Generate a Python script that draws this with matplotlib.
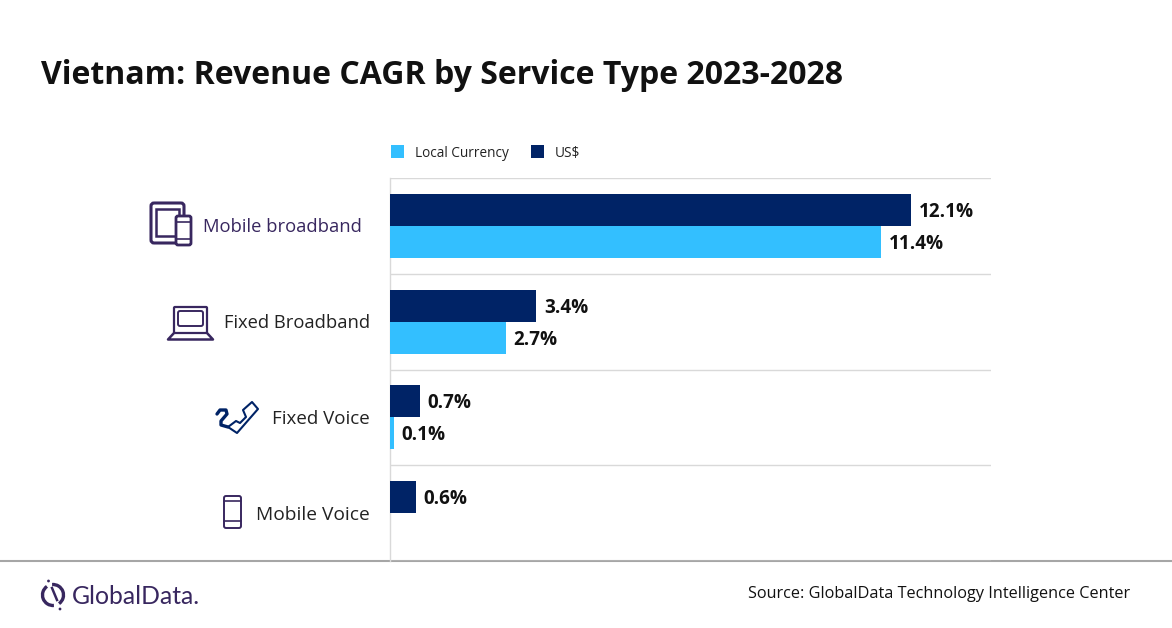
import numpy as np
import matplotlib
matplotlib.use('Agg')
import matplotlib.pyplot as plt
from matplotlib.patches import FancyBboxPatch, Rectangle, Circle, Arc, Polygon

plt.rcParams['font.family'] = ['Open Sans', 'DejaVu Sans']

categories = ['Mobile broadband', 'Fixed Broadband', 'Fixed Voice', 'Mobile Voice']
usd = [12.1, 3.4, 0.7, 0.6]
local_currency = [11.4, 2.7, 0.1, np.nan]
x_max = 13.95

W, H = 1172, 628
NAVY = '#002366'
CYAN = '#33BFFF'
PURPLE = '#38275F'
GRID = '#D9D9D9'

fig = plt.figure(figsize=(W / 100, H / 100), dpi=100)

# overlay in pixel coords for title, icons, footer
bg = fig.add_axes([0, 0, 1, 1])
bg.set_xlim(0, W)
bg.set_ylim(H, 0)
bg.axis('off')

ax = fig.add_axes([390 / W, 1 - 561 / H, 601 / W, 383 / H])
y = np.arange(len(categories))
bar_h = 0.334
ax.barh(y - bar_h / 2, usd, bar_h, color=NAVY)
ax.barh(y + bar_h / 2, local_currency, bar_h, color=CYAN)
ax.set_xlim(0, x_max)
ax.set_ylim(len(categories) - 0.5, -0.5)

for i in range(len(categories)):
    ax.text(usd[i] + 0.17, i - bar_h / 2 + 0.02, f'{usd[i]}%', va='center', ha='left',
            fontsize=13.6, fontweight='bold', color='#111111')
    if not np.isnan(local_currency[i]):
        ax.text(local_currency[i] + 0.17, i + bar_h / 2 + 0.02, f'{local_currency[i]}%',
                va='center', ha='left', fontsize=13.6, fontweight='bold', color='#111111')

for s in ['top', 'right', 'bottom']:
    ax.spines[s].set_visible(False)
ax.spines['left'].set_color(GRID)
ax.spines['left'].set_linewidth(1)
ax.spines['left'].set_zorder(0.5)
ax.set_yticks(np.arange(len(categories) + 1) - 0.5)
ax.set_yticklabels([])
ax.tick_params(axis='y', length=0)
ax.set_xticks([])
ax.grid(axis='y', color=GRID, linewidth=1)
ax.set_axisbelow(True)
ax.patch.set_alpha(0)

# category labels
label_right = [362, 370, 370, 370]
label_size = [13.2, 13.2, 13.5, 13.8]
label_color = [PURPLE, '#222222', '#222222', '#222222']
for i, name in enumerate(categories):
    bg.text(label_right[i], 227.5 + i * 95.7, name, ha='right', va='center',
            fontsize=label_size[i], color=label_color[i])

# title
bg.text(41, 75, 'Vietnam: Revenue CAGR by Service Type 2023-2028', fontsize=23,
        fontweight='bold', color='#111111', va='center', ha='left')

# legend
bg.add_patch(Rectangle((391, 145), 13, 13, color=CYAN, lw=0))
bg.text(415, 153.5, 'Local Currency', fontsize=9.8, color='#222222', va='center')
bg.add_patch(Rectangle((531, 145), 13, 13, color=NAVY, lw=0))
bg.text(555, 153.5, 'US$', fontsize=9.8, color='#222222', va='center')


def rbox(x0, y0, w, h, r, lw, color=PURPLE):
    bg.add_patch(FancyBboxPatch((x0, y0), w, h, boxstyle=f'round,pad=0,rounding_size={r}',
                                fc='white', ec=color, lw=lw))


# tablet + phone
rbox(151, 203, 33, 40, 3, 2.2)
bg.add_patch(Rectangle((156, 209), 23, 27, fc='white', ec=PURPLE, lw=1.8))
rbox(176, 216, 15, 29, 2, 2)
bg.plot([176, 191], [222, 222], color=PURPLE, lw=1.2)
bg.plot([176, 191], [239, 239], color=PURPLE, lw=1.2)

# laptop
rbox(174, 307, 33, 26, 1, 1.6)
rbox(178, 311, 25, 15, 2, 1.4)
bg.plot([174, 168, 213, 207], [333, 339.5, 339.5, 333], color=PURPLE, lw=1.8,
        solid_joinstyle='round')

# phone handset and cord
handset = [(243, 410), (252, 402), (258, 409), (237, 433), (228, 427),
           (236, 421), (240, 423), (246, 417)]
bg.add_patch(Polygon(handset, closed=True, fc='white', ec=NAVY, lw=1.5, joinstyle='round'))
bg.plot([217, 220, 226, 227, 221, 221, 228], [414, 410, 410, 414, 421, 425, 427],
        color=NAVY, lw=2.4, solid_joinstyle='round', solid_capstyle='round')

# mobile
rbox(224, 496, 17, 32, 2, 1.4)
bg.plot([224, 241], [501, 501], color=PURPLE, lw=1.2)
bg.plot([224, 241], [521, 521], color=PURPLE, lw=1.2)

# footer
bg.plot([0, 1172], [561, 561], color='#A6A6A6', lw=1.5)
bg.add_patch(Arc((53, 595), 21, 21, theta1=85, theta2=235, color=PURPLE, lw=2.4))
bg.add_patch(Arc((53, 595), 21, 21, theta1=265, theta2=415, color=PURPLE, lw=2.4))
bg.plot([52, 57], [588, 600], color=PURPLE, lw=1.8)
bg.add_patch(Circle((48.5, 581), 1.4, color=PURPLE, lw=0))
bg.add_patch(Circle((60, 609), 1.4, color=PURPLE, lw=0))
bg.text(72, 596, 'GlobalData.', fontsize=17.8, color=PURPLE, va='center', ha='left',
        fontfamily=['Lato', 'DejaVu Sans'])
bg.text(1130, 594.5, 'Source: GlobalData Technology Intelligence Center', fontsize=11.7,
        color='#111111', va='center', ha='right')

fig.savefig('out.png', dpi=100)
